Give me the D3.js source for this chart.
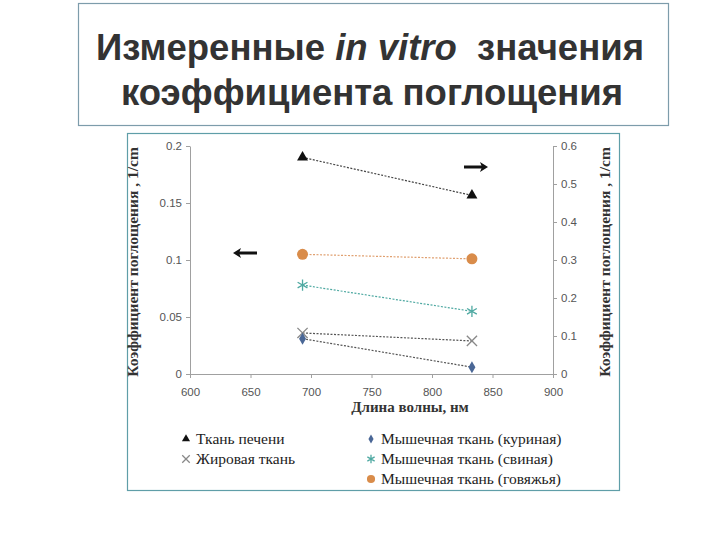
<!DOCTYPE html>
<html><head><meta charset="utf-8">
<script src="https://cdn.jsdelivr.net/npm/d3@7"></script>
<style>body{margin:0;background:#fff;}svg{display:block;}</style>
</head><body>
<svg id="c" width="720" height="540"></svg>
<script>
const wavelengths = [693, 833];
const liver = [0.57, 0.47];          // right axis
const chicken = [0.031, 0.006];
const fat = [0.036, 0.029];
const pork = [0.078, 0.055];
const beef = [0.105, 0.101];
const xTicks = [600, 650, 700, 750, 800, 850, 900];
const yLeftTicks = [0, 0.05, 0.1, 0.15, 0.2];
const yRightTicks = [0, 0.1, 0.2, 0.3, 0.4, 0.5, 0.6];
const legendNames = ["Ткань печени", "Жировая ткань", "Мышечная ткань (куриная)", "Мышечная ткань (свиная)", "Мышечная ткань (говяжья)"];

const svg = d3.select("#c");
const sans = "'Liberation Sans', Arial, sans-serif";
const serif = "'Liberation Serif', 'Times New Roman', serif";
// title box
svg.append("rect").attr("x",78.5).attr("y",3.5).attr("width",590).attr("height",122)
  .attr("fill","#fff").attr("stroke","#7d9cab").attr("stroke-width",1.2);
const t1 = svg.append("text").attr("x",370).attr("y",60).attr("text-anchor","middle")
  .attr("font-family",sans).attr("font-weight","bold")
  .attr("font-size",36.5).attr("fill","#333");
t1.append("tspan").text("Измеренные ");
t1.append("tspan").attr("font-style","italic").text("in vitro");
t1.append("tspan").text("\u00a0 значения");
svg.append("text").attr("x",372).attr("y",105).attr("text-anchor","middle")
  .attr("font-family",sans).attr("font-weight","bold")
  .attr("font-size",36.5).attr("fill","#333").text("коэффициента поглощения");

// chart box
svg.append("rect").attr("x",127.5).attr("y",133.5).attr("width",492).attr("height",357)
  .attr("fill","#fff").attr("stroke","#5f9ea8").attr("stroke-width",1.2);

const x = d3.scaleLinear().domain([600,900]).range([190,553]);
const yL = d3.scaleLinear().domain([0,0.2]).range([374,146]);
const yR = d3.scaleLinear().domain([0,0.6]).range([374,146]);

function styleAxis(g){
  g.selectAll("path,line").attr("stroke","#a0a0a0");
  g.selectAll("text").attr("font-family",sans).attr("font-size",11.5).attr("fill","#555");
}
svg.append("g").attr("transform","translate(0,374)")
  .call(d3.axisBottom(x).tickValues(xTicks).tickSize(4).tickSizeOuter(0).tickFormat(d3.format("d")))
  .call(styleAxis).call(g=>g.selectAll("text").attr("dy","1.3em"));
svg.append("g").attr("transform","translate(190,0)")
  .call(d3.axisLeft(yL).tickValues(yLeftTicks).tickSize(4).tickSizeOuter(0).tickFormat(d=>String(d)))
  .call(styleAxis).call(g=>g.selectAll("text").attr("x",-8));
svg.append("g").attr("transform","translate(553,0)")
  .call(d3.axisRight(yR).tickValues(yRightTicks).tickSize(4).tickSizeOuter(0).tickFormat(d=>String(d)))
  .call(styleAxis).call(g=>g.selectAll("text").attr("x",8));

// axis titles
svg.append("text").attr("transform","translate(138,262) rotate(-90)").attr("text-anchor","middle")
  .attr("font-family",serif).attr("font-weight","bold").attr("font-size",15.5).attr("fill","#333")
  .text("Коэффициент поглощения , 1/cm");
svg.append("text").attr("transform","translate(610,262) rotate(-90)").attr("text-anchor","middle")
  .attr("font-family",serif).attr("font-weight","bold").attr("font-size",15.5).attr("fill","#333")
  .text("Коэффициент поглощения , 1/cm");
svg.append("text").attr("x",410).attr("y",412).attr("text-anchor","middle")
  .attr("font-family",serif).attr("font-weight","bold").attr("font-size",15).attr("fill","#333")
  .text("Длина волны, нм");

// series
const series = [
  {vals: liver, scale: yR, color:"#111", line:"#444", sym:"tri"},
  {vals: fat, scale: yL, color:"#888", line:"#555", sym:"x"},
  {vals: chicken, scale: yL, color:"#4a6796", line:"#555", sym:"dia"},
  {vals: pork, scale: yL, color:"#4fa9a2", line:"#4fa9a2", sym:"ast"},
  {vals: beef, scale: yL, color:"#d98c4a", line:"#e0a070", sym:"circ"}
];
function drawSym(g, sym, color, cx, cy, s){
  s = s||1;
  if(sym==="tri") g.append("path").attr("d",d3.symbol(d3.symbolTriangle, 52*s)()).attr("transform",`translate(${cx},${cy})`).attr("fill",color);
  else if(sym==="dia") g.append("path").attr("d",d3.symbol(d3.symbolDiamond, 42*s)()).attr("transform",`translate(${cx},${cy})`).attr("fill",color);
  else if(sym==="circ") g.append("circle").attr("cx",cx).attr("cy",cy).attr("r",5.5*Math.sqrt(s)).attr("fill",color);
  else if(sym==="x") g.append("path").attr("d",d3.symbol(d3.symbolX, 70*s)()).attr("transform",`translate(${cx},${cy})`).attr("stroke",color).attr("stroke-width",1.3).attr("fill","none");
  else if(sym==="ast") g.append("path").attr("d",d3.symbol(d3.symbolAsterisk, 90*s)()).attr("transform",`translate(${cx},${cy})`).attr("stroke",color).attr("stroke-width",1.3).attr("fill","none");
}
const line = d3.line();
series.forEach(s=>{
  const pts = wavelengths.map((w,i)=>[x(w), s.scale(s.vals[i])]);
  svg.append("path").attr("d",line(pts)).attr("fill","none").attr("stroke",s.line)
    .attr("stroke-width",1.2).attr("stroke-dasharray","2,1.5");
});
series.forEach(s=>{
  wavelengths.forEach((w,i)=>drawSym(svg, s.sym, s.color, x(w), s.scale(s.vals[i])));
});

// arrows
function arrow(x1,x2,y){
  const dir = Math.sign(x2-x1);
  svg.append("line").attr("x1",x1).attr("x2",x2-dir*4).attr("y1",y).attr("y2",y).attr("stroke","#111").attr("stroke-width",3);
  svg.append("path").attr("d",`M${x2},${y} L${x2-dir*8},${y-5} L${x2-dir*6},${y} L${x2-dir*8},${y+5} Z`).attr("fill","#111");
}
arrow(257,233,253);
arrow(464,488,167);

// legend
const legPos = [[186,439],[186,459],[371,439],[371,459],[371,479]];
legendNames.forEach((n,i)=>{
  const [lx,ly] = legPos[i];
  drawSym(svg, series[i].sym, series[i].color, lx, ly, 0.55);
  svg.append("text").attr("x",lx+10).attr("y",ly+5).attr("font-family",serif)
    .attr("font-size",15.5).attr("fill","#222").text(n);
});
</script>
</body></html>
